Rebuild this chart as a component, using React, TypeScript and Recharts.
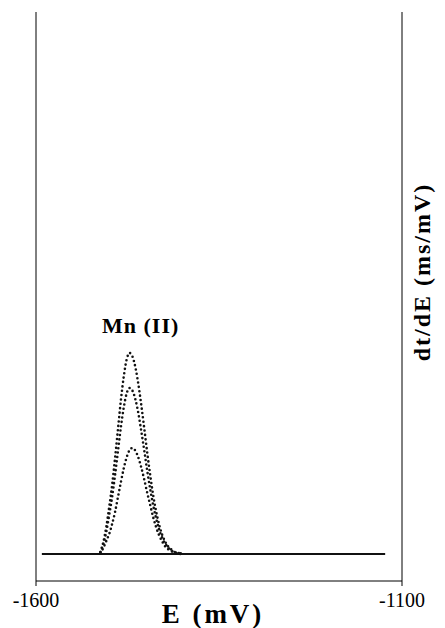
import { ComposedChart, Line, XAxis, YAxis, ReferenceDot, Label } from "recharts";

// potential grid of the peak region (mV)
const energies = [
  -1512, -1508, -1504, -1500, -1496, -1492, -1488, -1484, -1480, -1476,
  -1472, -1468, -1464, -1460, -1456, -1452, -1448, -1444, -1440, -1436,
  -1432, -1428, -1424, -1420, -1416, -1412, -1408, -1404, -1400,
];

const peakHigh = [
  0.02, 0.12, 0.27, 0.47, 0.69, 0.96, 1.25, 1.54, 1.78, 1.95,
  2.01, 1.97, 1.86, 1.69, 1.48, 1.25, 1.01, 0.79, 0.59, 0.43,
  0.3, 0.2, 0.13, 0.08, 0.05, 0.03, 0.01, 0.01, 0,
];
const peakMid = [
  0.02, 0.1, 0.22, 0.39, 0.57, 0.79, 1.03, 1.27, 1.47, 1.61,
  1.66, 1.63, 1.54, 1.4, 1.22, 1.03, 0.83, 0.65, 0.49, 0.36,
  0.25, 0.17, 0.11, 0.07, 0.04, 0.02, 0.01, 0.01, 0,
];
const peakLow = [
  0.01, 0.06, 0.13, 0.2, 0.3, 0.42, 0.57, 0.72, 0.86, 0.97,
  1.04, 1.06, 1.03, 0.96, 0.86, 0.74, 0.61, 0.49, 0.37, 0.27,
  0.19, 0.13, 0.08, 0.05, 0.03, 0.02, 0.01, 0, 0,
];

// flat baseline either side of the peak
const baselineE = [-1592, -1123];
const baselineValue = [0, 0];

const xTicks = [-1600, -1100];
const xDomain = [-1600, -1100];
const yDomain = [-0.27, 5.42];

const rows = energies.map((e, i) => ({ E: e, high: peakHigh[i], mid: peakMid[i], low: peakLow[i] }));
const baseRows = baselineE.map((e, i) => ({ E: e, v: baselineValue[i] }));

const serif = "'Liberation Serif', 'Times New Roman', serif";

const renderXTitle = (props: any) => {
  const vb = props.viewBox;
  return (
    <text x={vb.x + vb.width / 2 - 6} y={vb.y + 42} textAnchor="middle" fill="#000"
      fontFamily={serif} fontWeight="bold" fontSize={27} letterSpacing={3}>
      E (mV)
    </text>
  );
};

const renderYTitle = (props: any) => {
  const vb = props.viewBox;
  const cx = vb.x + 20;
  const cy = vb.y + 260;
  return (
    <text x={cx} y={cy} transform={`rotate(-90 ${cx} ${cy})`} textAnchor="middle" dominantBaseline="central"
      fill="#000" fontFamily={serif} fontWeight="bold" fontSize={24} letterSpacing={2}>
      dt/dE (ms/mV)
    </text>
  );
};

const dotted = { stroke: "#111", strokeWidth: 2.6, strokeDasharray: "0 4.4", strokeLinecap: "round" as const };

export default function App() {
  return (
    <div style={{ position: "absolute", left: 0, top: 0, background: "#fff" }}>
      <ComposedChart width={445} height={628} data={rows} margin={{ top: 12, right: 0, bottom: 0, left: 0 }}>
        <XAxis dataKey="E" type="number" domain={xDomain} ticks={xTicks} height={47}
          axisLine={{ stroke: "#000" }} tickLine={{ stroke: "#000" }} tickSize={5} tickMargin={7}
          tick={{ fill: "#000", fontFamily: serif, fontSize: 20 }}>
          <Label content={renderXTitle} />
        </XAxis>
        <XAxis xAxisId="top" orientation="top" dataKey="E" type="number" domain={xDomain} height={0}
          tick={false} tickLine={false} axisLine={{ stroke: "#000" }} />
        <YAxis type="number" domain={yDomain} width={36} tick={false} tickLine={false}
          axisLine={{ stroke: "#000" }} allowDataOverflow />
        <YAxis yAxisId="right" orientation="right" type="number" domain={yDomain} width={43}
          tick={false} tickLine={false} axisLine={{ stroke: "#000" }}>
          <Label content={renderYTitle} />
        </YAxis>
        <Line data={baseRows} dataKey="v" type="linear" stroke="#111" strokeWidth={2} dot={false} isAnimationActive={false} />
        <Line dataKey="low" type="monotone" {...dotted} dot={false} isAnimationActive={false} />
        <Line dataKey="mid" type="monotone" {...dotted} dot={false} isAnimationActive={false} />
        <Line dataKey="high" type="monotone" {...dotted} dot={false} isAnimationActive={false} />
        <ReferenceDot x={-1457} y={2.29} r={0} fill="none" stroke="none" ifOverflow="visible">
          <Label value="Mn (II)" position="center" fill="#000" fontFamily={serif} fontWeight="bold" fontSize={22} letterSpacing={1} />
        </ReferenceDot>
      </ComposedChart>
    </div>
  );
}
